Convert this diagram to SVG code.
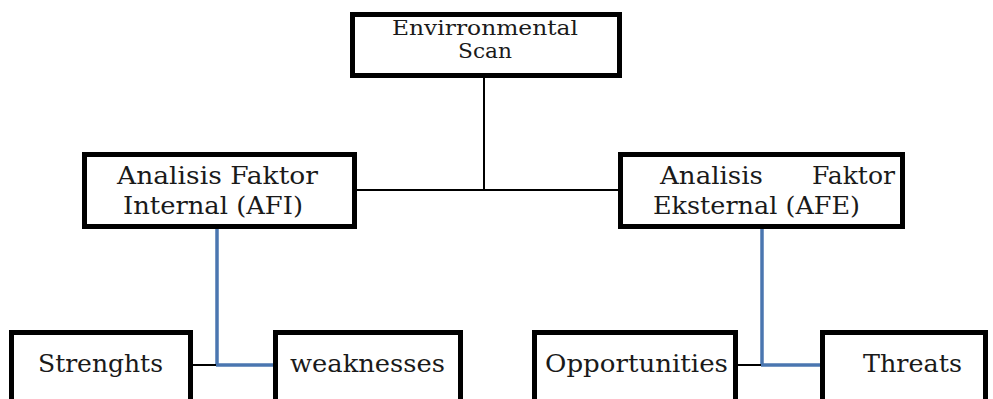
<svg xmlns="http://www.w3.org/2000/svg" width="993" height="399" viewBox="0 0 993 399">
<style>
.box{fill:#fff;stroke:#000;stroke-width:5}
.t{font-family:"DejaVu Serif","Liberation Serif",serif;fill:#1a1a1a}
.k{stroke:#000;stroke-width:2;fill:none}
.b{stroke:#4a76b0;stroke-width:3.5;fill:none}
</style>
<rect width="993" height="399" fill="#fff"/>
<g id="connectors">
<line class="k" x1="484" y1="78" x2="484" y2="190"/>
<line class="k" x1="357" y1="190" x2="618" y2="190"/>
<line class="b" x1="217" y1="229" x2="217" y2="365"/>
<line class="k" x1="193" y1="365" x2="217" y2="365"/>
<line class="b" x1="216" y1="365" x2="273" y2="365"/>
<line class="b" x1="762" y1="229" x2="762" y2="365"/>
<line class="k" x1="738" y1="365" x2="762" y2="365"/>
<line class="b" x1="761" y1="365" x2="820" y2="365"/>
</g>
<g id="scan">
<rect class="box" x="352.5" y="14.5" width="267" height="61"/>
<text class="t" x="392" y="35" font-size="20" textLength="186" lengthAdjust="spacingAndGlyphs">Envirronmental</text>
<text class="t" x="458" y="58" font-size="20" textLength="54" lengthAdjust="spacingAndGlyphs">Scan</text>
</g>
<g id="afi">
<rect class="box" x="84.5" y="154.5" width="270" height="72"/>
<text class="t" x="117" y="184" font-size="25" textLength="201" lengthAdjust="spacingAndGlyphs">Analisis  Faktor</text>
<text class="t" x="123" y="214" font-size="25" textLength="180" lengthAdjust="spacingAndGlyphs">Internal (AFI)</text>
</g>
<g id="afe">
<rect class="box" x="620.5" y="154.5" width="282" height="72"/>
<text class="t" x="660" y="184" font-size="25" textLength="103" lengthAdjust="spacingAndGlyphs">Analisis</text>
<text class="t" x="812" y="184" font-size="25" textLength="83" lengthAdjust="spacingAndGlyphs">Faktor</text>
<text class="t" x="653" y="214" font-size="25" textLength="207" lengthAdjust="spacingAndGlyphs">Eksternal (AFE)</text>
</g>
<g id="strengths">
<rect class="box" x="11.5" y="332.5" width="179" height="80"/>
<text class="t" x="38" y="372" font-size="25" textLength="125" lengthAdjust="spacingAndGlyphs">Strenghts</text>
</g>
<g id="weaknesses">
<rect class="box" x="275.5" y="332.5" width="185" height="80"/>
<text class="t" x="290" y="372" font-size="25" textLength="155" lengthAdjust="spacingAndGlyphs">weaknesses</text>
</g>
<g id="opportunities">
<rect class="box" x="534.5" y="332.5" width="201" height="80"/>
<text class="t" x="545" y="372" font-size="25" textLength="183" lengthAdjust="spacingAndGlyphs">Opportunities</text>
</g>
<g id="threats">
<rect class="box" x="822.5" y="332.5" width="163" height="80"/>
<text class="t" x="863" y="372" font-size="25" textLength="99" lengthAdjust="spacingAndGlyphs">Threats</text>
</g>
</svg>
